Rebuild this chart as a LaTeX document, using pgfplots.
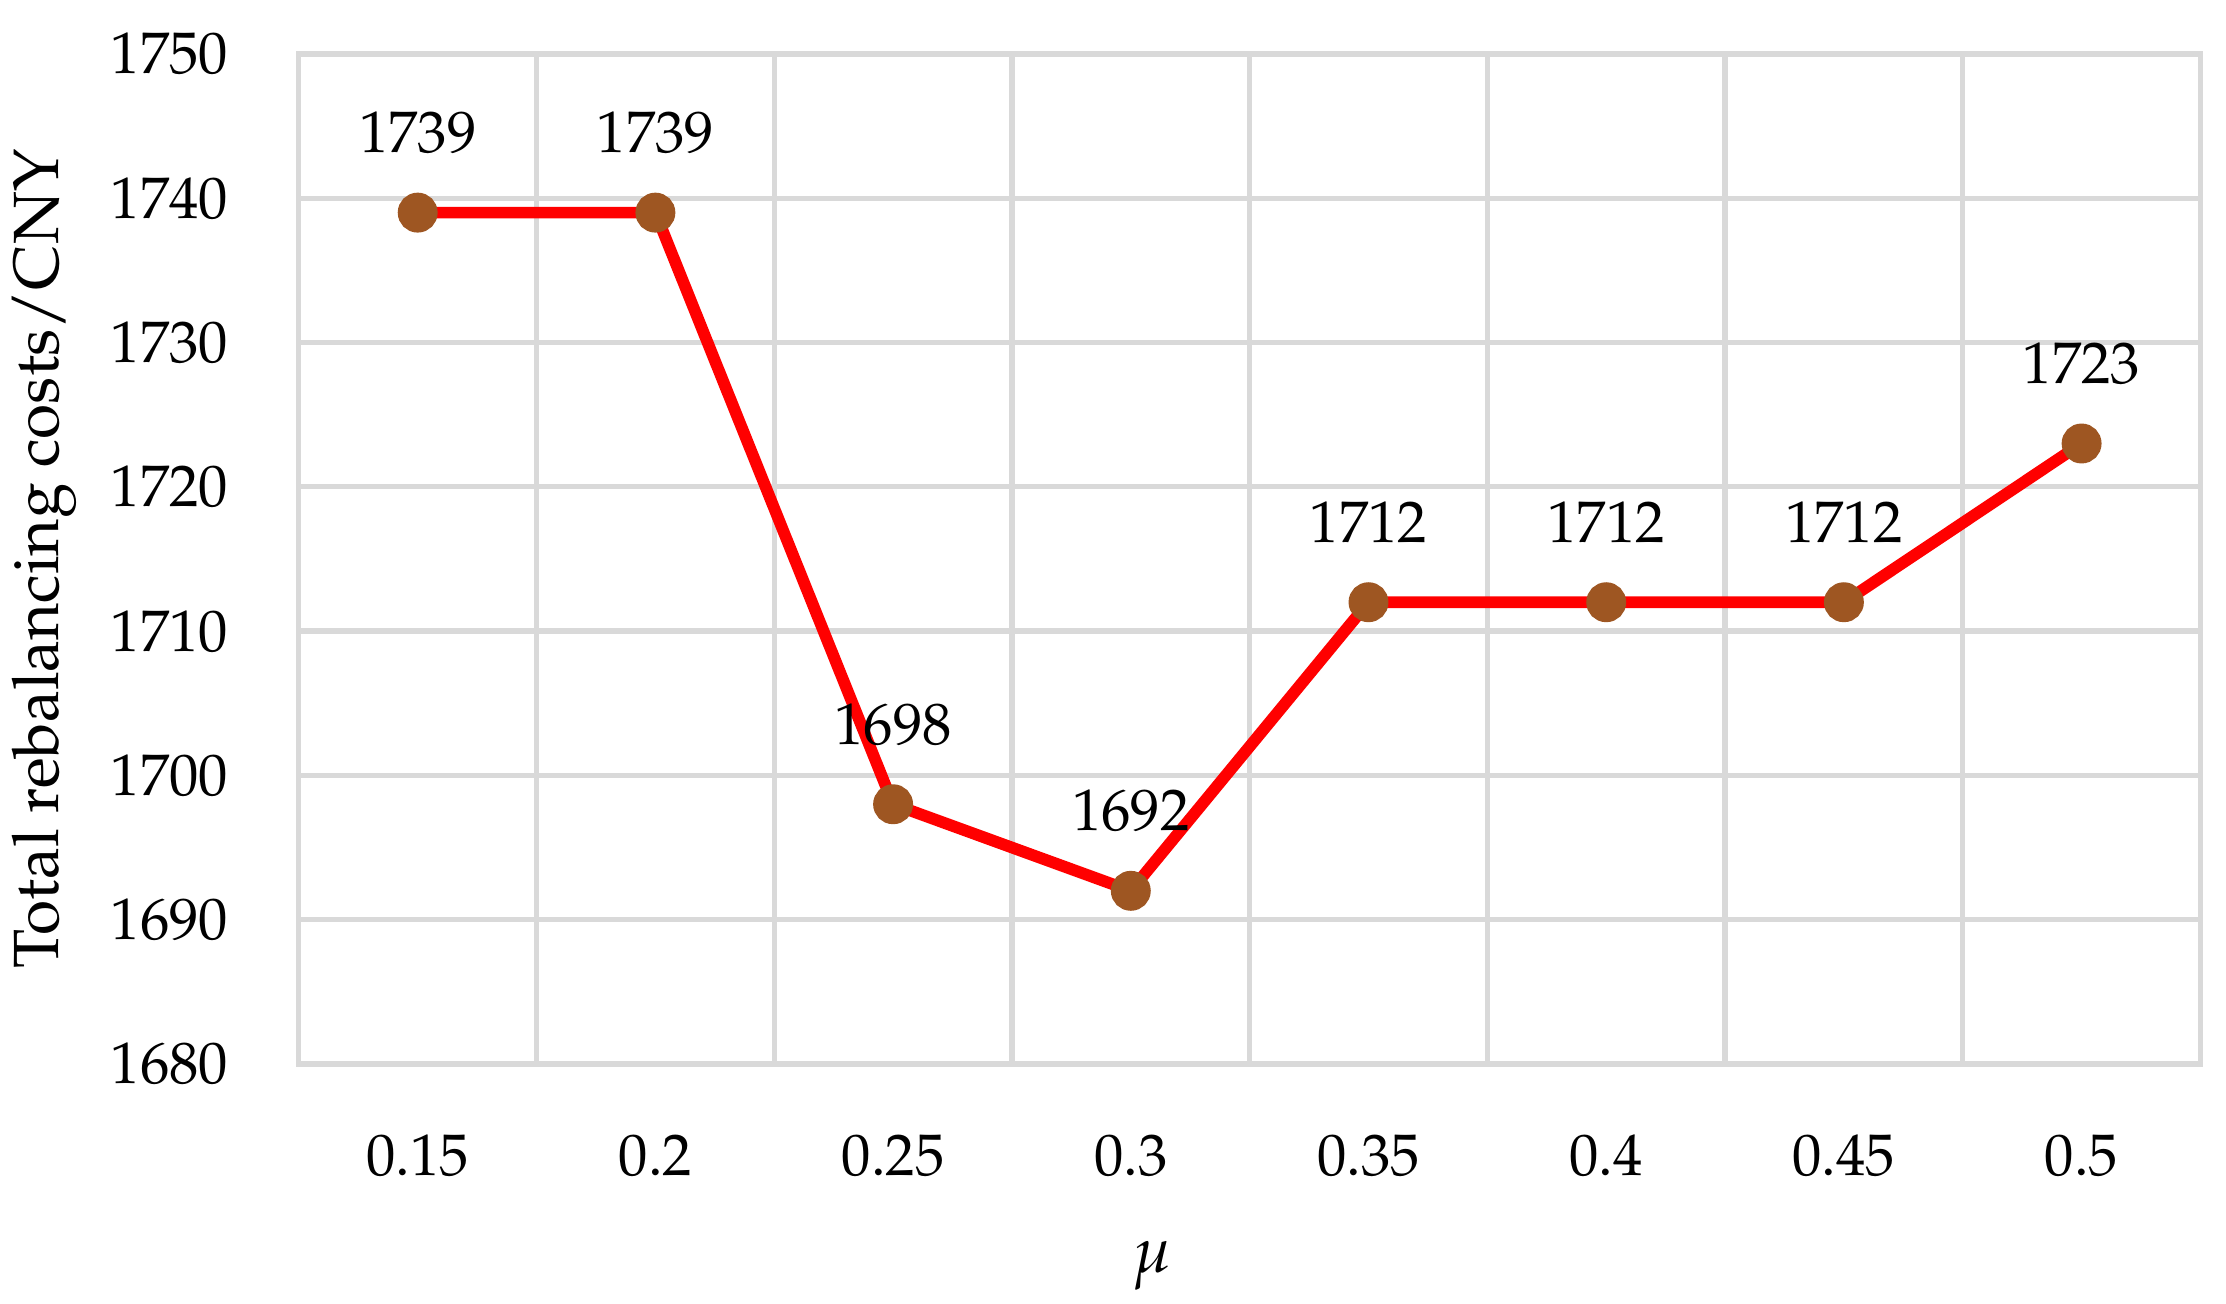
\documentclass[border=0pt]{standalone}
\usepackage[T1]{fontenc}
\usepackage{mathpazo}
\usepackage{pgfplots}
\pgfplotsset{compat=1.18}
\definecolor{gridgray}{RGB}{217,217,217}
\definecolor{linered}{RGB}{255,0,0}
\definecolor{markbrown}{RGB}{158,86,34}

\begin{document}
\begin{tikzpicture}
  \begin{axis}[
    scale only axis,
    width=11.39cm,
    height=6.05cm,
    xmin=-0.5, xmax=7.5,
    ymin=1680, ymax=1750,
    ytick={1680,1690,...,1750},
    xtick={0,...,7},
    xticklabels={0.15,0.2,0.25,0.3,0.35,0.4,0.45,0.5},
    minor xtick={-0.5,0.5,...,7.5},
    ymajorgrids,
    xminorgrids,
    grid style={gridgray, line width=0.9pt},
    minor grid style={gridgray, line width=0.9pt},
    axis line style={gridgray, line width=0.9pt},
    major tick length=0pt,
    minor tick length=0pt,
    tick style={draw=none},
    yticklabel style={xshift=-0.3cm},
    xticklabel style={yshift=-0.3cm},
    /pgf/number format/.cd, use comma=false, 1000 sep={},
    /pgfplots/.cd,
    xlabel={$\mu$},
    xlabel style={at={(axis description cs:0.449,-0.2)}, anchor=center, font=\fontsize{11}{13}\selectfont},
    ylabel={Total rebalancing costs/CNY},
    ylabel style={at={(axis description cs:-0.134,0.5)}, anchor=center, font=\fontsize{10.9}{13}\selectfont},
    nodes near coords,
    nodes near coords style={anchor=center, yshift=0.48cm, text=black,
      /pgf/number format/1000 sep={}},
    clip=false,
  ]
    \addplot [linered, line width=2pt, mark=*,
      mark options={draw=markbrown, fill=markbrown, scale=1.2}]
      coordinates {(0,1739) (1,1739) (2,1698) (3,1692) (4,1712) (5,1712) (6,1712) (7,1723)};
  \end{axis}
  \pgfresetboundingbox
  \path ([xshift=-1.79cm,yshift=-1.437cm]current axis.south west)
    rectangle ([xshift=0.153cm,yshift=0.323cm]current axis.north east);
\end{tikzpicture}
\end{document}
